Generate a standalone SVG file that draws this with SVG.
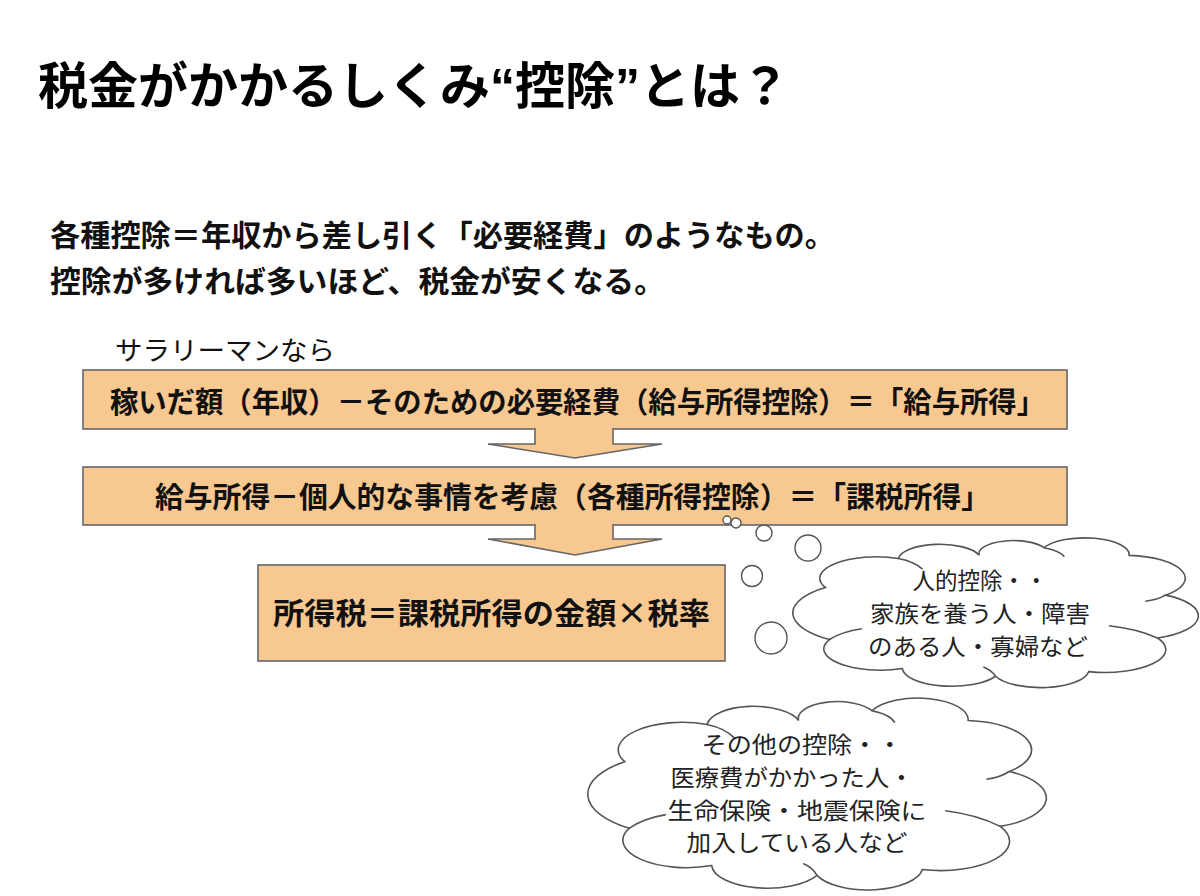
<svg xmlns="http://www.w3.org/2000/svg" width="1200" height="896" viewBox="0 0 1200 896">
<defs>
<style>
.bg{fill:#ffffff}
.box{fill:#F8C891;stroke:#666;stroke-width:1.6}
.arrow{fill:#F8C891;stroke:#666;stroke-width:1.6;stroke-linejoin:miter}
.cloud{fill:#fff;stroke:#555;stroke-width:1.6}
.crease{fill:none;stroke:#555;stroke-width:1.6}
.bub{fill:#fff;stroke:#555;stroke-width:1.4}
.title{font-family:"Liberation Sans","Noto Sans CJK JP",sans-serif;font-weight:700;fill:#000}
.bt{font-family:"Noto Sans CJK JP",sans-serif;font-weight:700;fill:#111}
.reg{font-family:"Noto Sans CJK JP",sans-serif;font-weight:400;fill:#111}
.ct{font-family:"Noto Sans CJK JP",sans-serif;font-weight:400;fill:#222;font-size:23px;text-anchor:middle}
</style>
</defs>
<rect class="bg" x="0" y="0" width="1200" height="896"/>

<g id="title">
<text class="title" x="38" y="104" font-size="50" textLength="752" lengthAdjust="spacingAndGlyphs">税金がかかるしくみ“控除”とは？</text>
</g>
<g id="intro">
<text class="bt" x="50" y="246" font-size="30" textLength="785" lengthAdjust="spacingAndGlyphs">各種控除＝年収から差し引く「必要経費」のようなもの。</text>
<text class="bt" x="50" y="292" font-size="30" textLength="615" lengthAdjust="spacingAndGlyphs">控除が多ければ多いほど、税金が安くなる。</text>
<text class="reg" x="115" y="360" font-size="26" textLength="220" lengthAdjust="spacingAndGlyphs">サラリーマンなら</text>
</g>

<g id="box1">
<rect class="box" x="83" y="370" width="984" height="59"/>
<text class="bt" x="110" y="413" font-size="29" textLength="935" lengthAdjust="spacingAndGlyphs">稼いだ額（年収）－そのための必要経費（給与所得控除）＝「給与所得」</text>
</g>
<g id="box2">
<rect class="box" x="83" y="467" width="984" height="58"/>
<text class="bt" x="155" y="508" font-size="29" textLength="835" lengthAdjust="spacingAndGlyphs">給与所得－個人的な事情を考慮（各種所得控除）＝「課税所得」</text>
</g>
<g id="box3">
<rect class="box" x="258" y="565" width="467" height="96"/>
<text class="bt" x="273" y="624" font-size="30" textLength="437" lengthAdjust="spacingAndGlyphs">所得税＝課税所得の金額×税率</text>
</g>

<g id="connectors">
<path class="arrow" d="M535,428 V444 H488 L575,458 L662,444 H613 V428"/>
<path class="arrow" d="M535,524 V539 H488 L575,555 L662,539 H613 V524"/>
<circle class="bub" cx="727" cy="520" r="4"/>
<circle class="bub" cx="736" cy="523" r="5"/>
<circle class="bub" cx="764" cy="533" r="8"/>
<circle class="bub" cx="808" cy="548" r="13"/>
<circle class="bub" cx="752" cy="576" r="10.5"/>
<circle class="bub" cx="771" cy="638" r="16"/>
</g>

<g id="cloud1">
<g transform="translate(793,537) scale(4.05,1.53)">
<path class="cloud" vector-effect="non-scaling-stroke" d="M9,67 A21.2,21.2 0 0 1 8,33 A14,14 0 0 1 26,14 A10.25,10.25 0 0 1 46,12 A8.5,8.5 0 0 1 62,7 A11,11 0 0 1 83,12 A15,15 0 0 1 92,38 A15.4,15.4 0 0 1 90,66 A15,15 0 0 1 73,88 A12,12 0 0 1 50,91 A12.2,12.2 0 0 1 27,86 A14,14 0 0 1 9,67 Z"/>
<path class="crease" vector-effect="non-scaling-stroke" d="M26,14 Q30,16 32,21 M62,7 Q66,9 67,13 M92,38 Q90,41 87,42 M90,66 Q85,60 78,58 M9,67 Q12,62 17,60 M50,91 Q49,87 47,85"/>
</g>
<text class="ct" x="980" y="589" textLength="135" lengthAdjust="spacingAndGlyphs">人的控除・・</text>
<text class="ct" x="980" y="622" textLength="220" lengthAdjust="spacingAndGlyphs">家族を養う人・障害</text>
<text class="ct" x="978" y="655" textLength="220" lengthAdjust="spacingAndGlyphs">のある人・寡婦など</text>
</g>

<g id="cloud2">
<g transform="translate(588,697) scale(4.58,1.96)">
<path class="cloud" vector-effect="non-scaling-stroke" d="M9,67 A21.2,21.2 0 0 1 8,33 A14,14 0 0 1 26,14 A10.25,10.25 0 0 1 46,12 A8.5,8.5 0 0 1 62,7 A11,11 0 0 1 83,12 A15,15 0 0 1 92,38 A15.4,15.4 0 0 1 90,66 A15,15 0 0 1 73,88 A12,12 0 0 1 50,91 A12.2,12.2 0 0 1 27,86 A14,14 0 0 1 9,67 Z"/>
<path class="crease" vector-effect="non-scaling-stroke" d="M26,14 Q30,16 32,21 M62,7 Q66,9 67,13 M92,38 Q90,41 87,42 M90,66 Q85,60 78,58 M9,67 Q12,62 17,60 M50,91 Q49,87 47,85"/>
</g>
<text class="ct" x="802" y="753" textLength="201" lengthAdjust="spacingAndGlyphs">その他の控除・・</text>
<text class="ct" x="792" y="786" textLength="243" lengthAdjust="spacingAndGlyphs">医療費がかかった人・</text>
<text class="ct" x="797" y="819" textLength="259" lengthAdjust="spacingAndGlyphs">生命保険・地震保険に</text>
<text class="ct" x="797" y="851" textLength="221" lengthAdjust="spacingAndGlyphs">加入している人など</text>
</g>
</svg>
